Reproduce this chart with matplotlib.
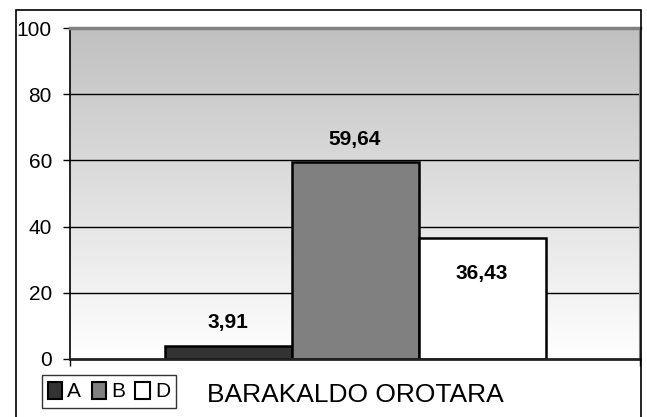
import numpy as np
import matplotlib
matplotlib.use("Agg")
import matplotlib.pyplot as plt
from matplotlib.patches import Patch, Rectangle

plt.rcParams['font.family'] = ['Liberation Sans', 'DejaVu Sans']

series = ['A', 'B', 'D']
values = [3.91, 59.64, 36.43]
labels = ['3,91', '59,64', '36,43']
category = 'BARAKALDO OROTARA'
yticks = [0, 20, 40, 60, 80, 100]

colors = ['#333333', '#808080', '#ffffff']
label_offsets = [17, 16, -25]   # offset in points from bar top
W, H = 647, 417

fig = plt.figure(figsize=(W / 100, H / 100), dpi=100)
fig.patch.set_facecolor('white')

# outer chart border
fig.add_artist(Rectangle((16 / W, -0.1), (641 - 16) / W, 1.1 - 10 / H,
                         transform=fig.transFigure, fill=False,
                         edgecolor='black', lw=1.2))

ax = fig.add_axes([70 / W, 1 - 359 / H, 570 / W, 331 / H])

# gray gradient background
grad = np.linspace(192, 255, 256)[:, None] / 255.0
ax.imshow(np.dstack([grad, grad, grad]), extent=[-0.5, 0.5, 0, 100],
          aspect='auto', origin='upper', zorder=0)

ax.set_xlim(-0.5, 0.5)
ax.set_ylim(0, 100)

for v in yticks[1:-1]:
    ax.axhline(v, color='black', lw=1, zorder=1)

w = 127 / 570
xpos = (np.arange(len(values)) - 1) * w
ax.bar(xpos, values, width=w, color=colors, edgecolor='black', lw=1.8, zorder=2)

for x, v, t, off in zip(xpos, values, labels, label_offsets):
    ax.annotate(t, (x, v), xytext=(0, off), textcoords='offset points',
                ha='center', va='center', fontsize=15, fontweight='bold', zorder=3)

ax.set_yticks(yticks)
ax.tick_params(axis='y', labelsize=15, length=5, width=1, pad=8, direction='out')
ax.set_xticks([0])
ax.set_xticklabels([category], fontsize=19)
ax.tick_params(axis='x', length=0, pad=17)
ax.set_xticks([-0.5, 0.5], minor=True)
ax.tick_params(axis='x', which='minor', length=5, width=1)

ax.spines['top'].set_color('#808080')
ax.spines['top'].set_linewidth(2.5)
ax.spines['right'].set_color('#808080')
ax.spines['right'].set_linewidth(1.5)
ax.spines['left'].set_color('black')
ax.spines['left'].set_linewidth(1.2)
ax.spines['bottom'].set_color('#222222')
ax.spines['bottom'].set_linewidth(2)

handles = [Patch(facecolor=c, edgecolor='black', lw=1.5, label=s) for c, s in zip(colors, series)]
leg = fig.legend(handles=handles, loc='center', bbox_to_anchor=(109 / W, 1 - 391.5 / H),
                 ncol=3, fontsize=15, frameon=True, fancybox=False,
                 handlelength=0.68, handleheight=0.9, handletextpad=0.25,
                 columnspacing=0.5, borderpad=0.3, borderaxespad=0)
leg.get_frame().set_edgecolor('black')
leg.get_frame().set_linewidth(1)

fig.savefig('out.png', dpi=100)
